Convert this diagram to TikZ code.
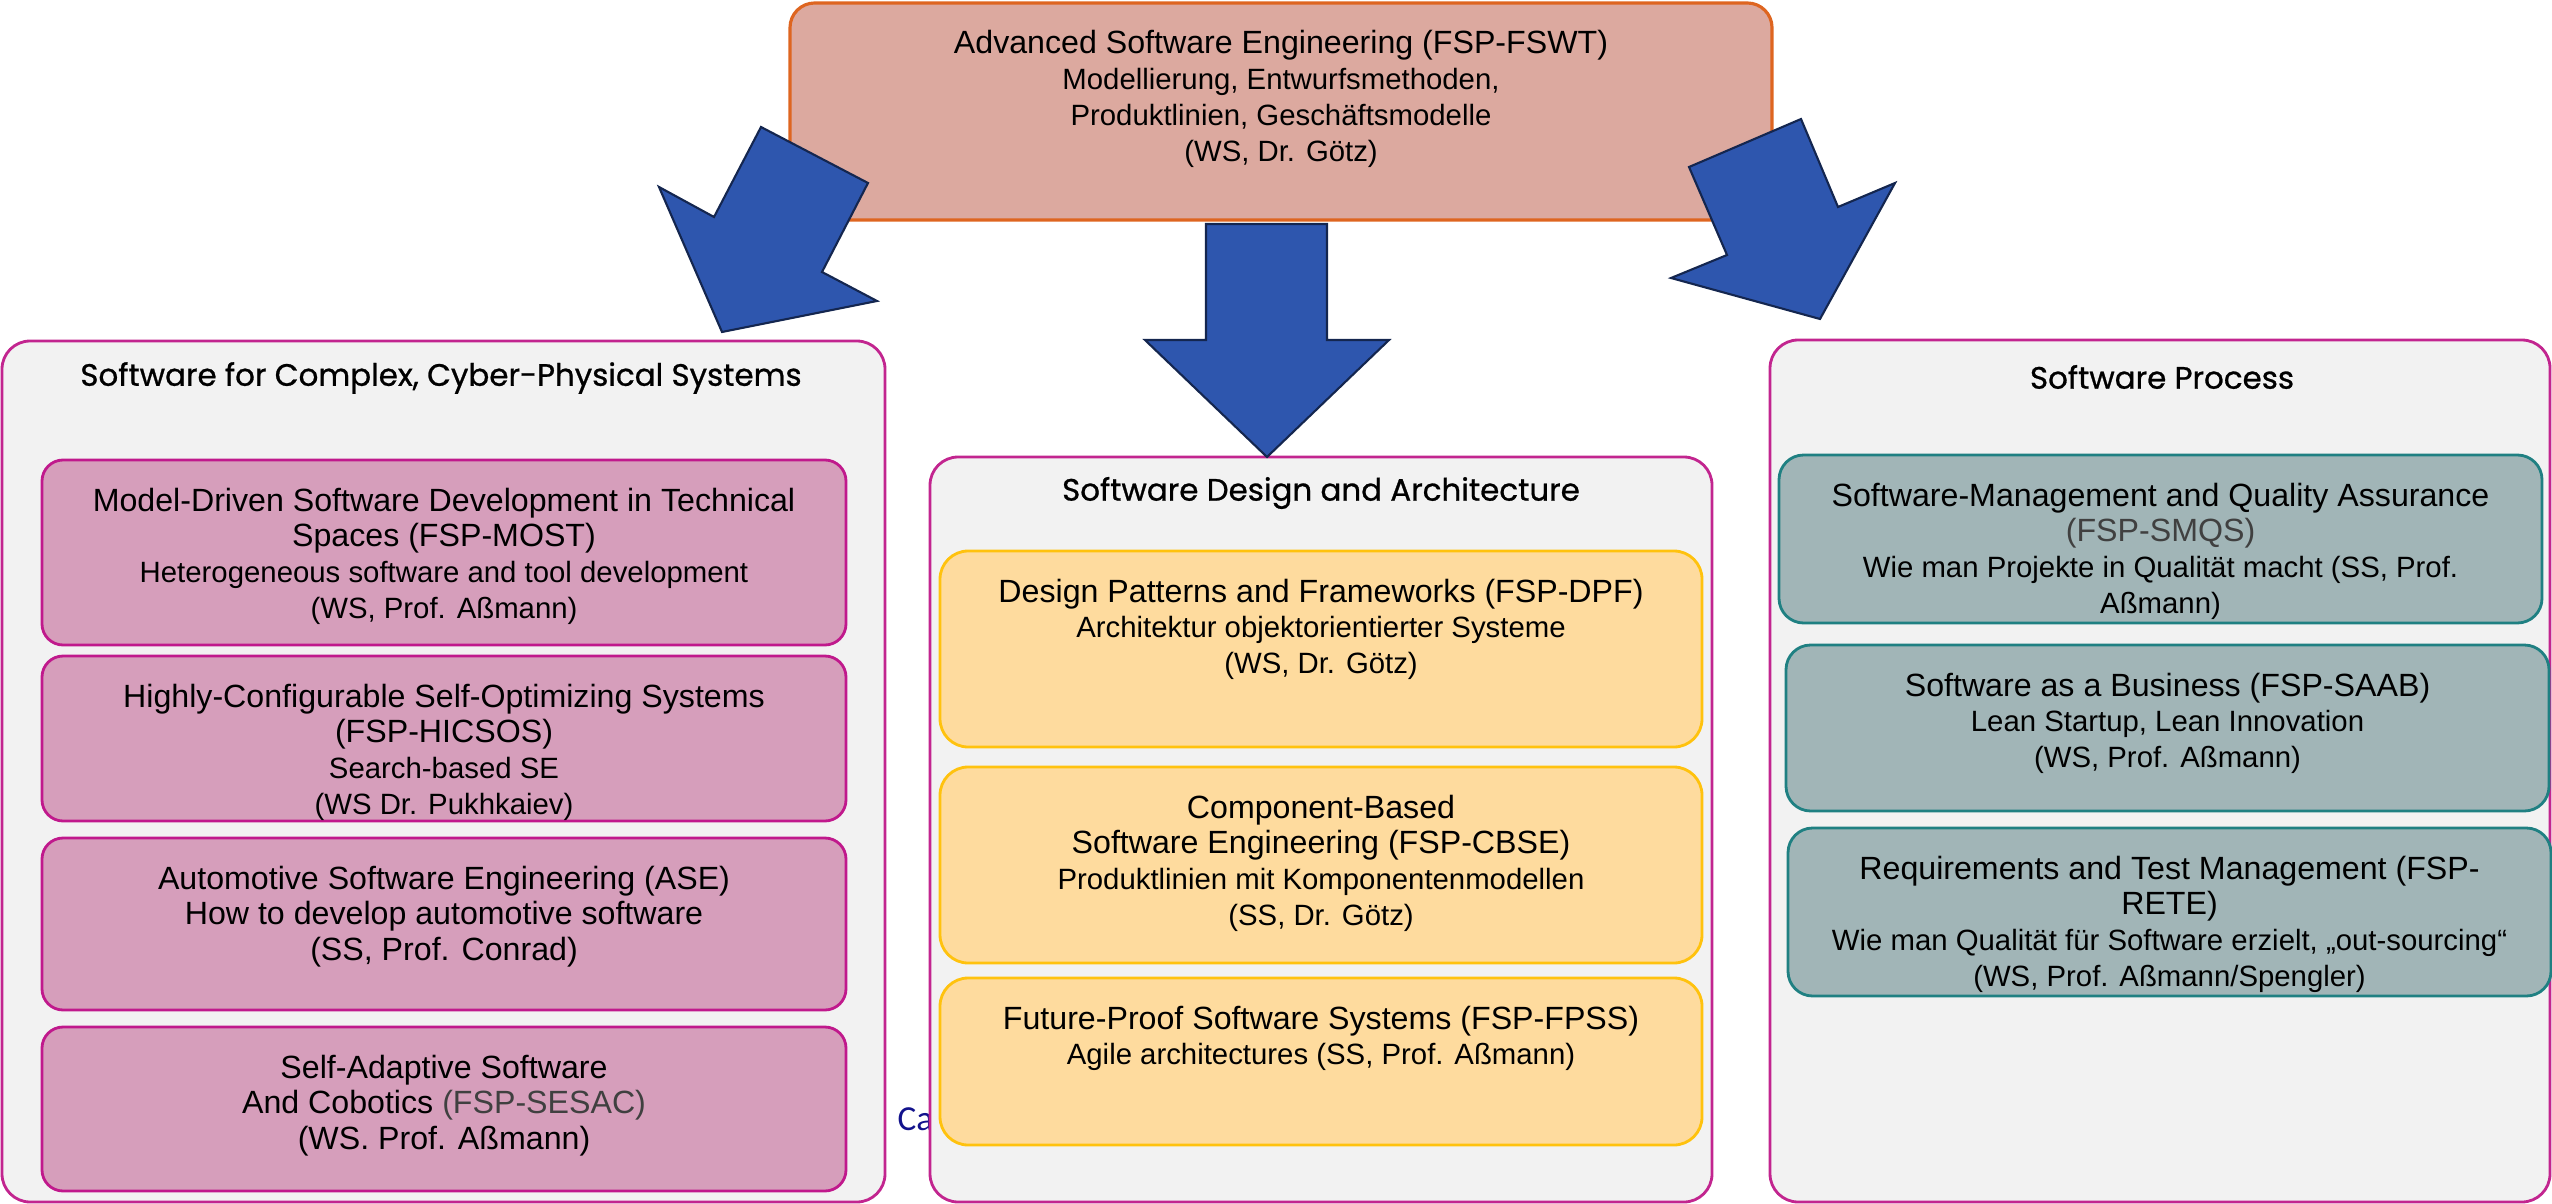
\documentclass[tikz,border=0pt]{standalone}
\usepackage{fontspec}
\setmainfont{Liberation Sans}
\newfontfamily\hdfont{Poppins}[FakeBold=0.8]
\newfontfamily\calfont{Carlito}
\usetikzlibrary{positioning}
\definecolor{grpline}{HTML}{C2258F}
\definecolor{grpfill}{HTML}{F2F2F2}
\definecolor{topfill}{HTML}{DCA99F}
\definecolor{topline}{HTML}{DE6520}
\definecolor{pinkfill}{HTML}{D69EBB}
\definecolor{pinkline}{HTML}{C0198C}
\definecolor{ylwfill}{HTML}{FEDB9E}
\definecolor{ylwline}{HTML}{FFC20E}
\definecolor{tealfill}{HTML}{A1B5B7}
\definecolor{tealline}{HTML}{1F8082}
\definecolor{arrfill}{HTML}{2E56AE}
\definecolor{arrline}{HTML}{14264F}
\definecolor{calblue}{HTML}{12128C}
\definecolor{fspgray}{HTML}{404040}
\newcommand{\fsp}[1]{\textcolor{fspgray}{#1}}
\newcommand{\subl}[1]{{\fontsize{8.35}{10.2}\selectfont #1}}

\begin{document}
\begin{tikzpicture}[
  font=\fontsize{9.15}{10.2}\selectfont,
  grp/.style={rounded corners=8pt, draw=grpline, line width=0.8pt, fill=grpfill, inner sep=0pt},
  topbox/.style={rounded corners=7pt, draw=topline, line width=0.9pt, fill=topfill, inner sep=0pt},
  pinkbox/.style={rounded corners=6pt, draw=pinkline, line width=0.8pt, fill=pinkfill,
                  inner sep=0pt, minimum width=8.04cm},
  ylwbox/.style={rounded corners=8pt, draw=ylwline, line width=0.8pt, fill=ylwfill,
                 inner sep=0pt, minimum width=7.62cm},
  tealbox/.style={rounded corners=7pt, draw=tealline, line width=0.8pt, fill=tealfill,
                  inner sep=0pt, minimum width=7.63cm},
  txt/.style={anchor=north, align=center, inner sep=0pt, yshift=-2.85mm},
  ttl/.style={font=\hdfont\fontsize{8.8}{11}\selectfont, inner sep=0pt},
  blockarr/.style={fill=arrfill, draw=arrline, line width=0.6pt, line join=miter},
]
\useasboundingbox (0,0) rectangle (25.52,-12.04);

% ---- groups ----
\node[grp, minimum width=8.83cm, minimum height=8.61cm] (cps) at (4.435,-7.715) {};
\node[calblue, font=\calfont\fontsize{10}{12}\selectfont, anchor=west, inner sep=0pt] (ca) at (8.97,-11.195) {Ca};
\node[grp, minimum width=7.82cm, minimum height=7.45cm] (sda) at (13.21,-8.295) {};
\node[grp, minimum width=7.80cm, minimum height=8.62cm] (proc) at (21.60,-7.71) {};

\node[ttl] (cps-t)  at (4.41,-3.78)  {Software for Complex, Cyber-Physical Systems};
\node[ttl] (sda-t)  at (13.21,-4.93) {Software Design and Architecture};
\node[ttl] (proc-t) at (21.62,-3.77) {Software Process};

% ---- top ----
\node[topbox, minimum width=9.82cm, minimum height=2.17cm] (fswt) at (12.81,-1.115) {};
\node[txt] (fswt-t) at (fswt.north) {Advanced Software Engineering (FSP-FSWT)\\\subl{Modellierung, Entwurfsmethoden,}\\\subl{Produktlinien, Geschäftsmodelle}\\\subl{(WS, Dr. Götz)}};

% ---- left column ----
\node[pinkbox, minimum height=1.85cm] (most)   at (4.44,-5.525) {};
\node[pinkbox, minimum height=1.65cm] (hicsos) at (4.44,-7.385) {};
\node[pinkbox, minimum height=1.72cm] (ase)    at (4.44,-9.24)  {};
\node[pinkbox, minimum height=1.64cm] (sesac)  at (4.44,-11.09) {};
\node[txt] (most-t)   at (most.north)   {Model-Driven Software Development in Technical\\Spaces (FSP-MOST)\\\subl{Heterogeneous software and tool development}\\\subl{(WS, Prof. Aßmann)}};
\node[txt] (hicsos-t) at (hicsos.north) {Highly-Configurable Self-Optimizing Systems\\(FSP-HICSOS)\\\subl{Search-based SE}\\\subl{(WS Dr. Pukhkaiev)}};
\node[txt] (ase-t)    at (ase.north)    {Automotive Software Engineering (ASE)\\How to develop automotive software\\(SS, Prof. Conrad)};
\node[txt] (sesac-t)  at (sesac.north)  {Self-Adaptive Software\\And Cobotics \fsp{(FSP-SESAC)}\\(WS. Prof. Aßmann)};

% ---- middle column ----
\node[ylwbox, minimum height=1.96cm] (dpf)  at (13.21,-6.49)  {};
\node[ylwbox, minimum height=1.96cm] (cbse) at (13.21,-8.65)  {};
\node[ylwbox, minimum height=1.67cm] (fpss) at (13.21,-10.615) {};
\node[txt] (dpf-t)  at (dpf.north)  {Design Patterns and Frameworks (FSP-DPF)\\\subl{Architektur objektorientierter Systeme}\\\subl{(WS, Dr. Götz)}};
\node[txt] (cbse-t) at (cbse.north) {Component-Based\\Software Engineering (FSP-CBSE)\\\subl{Produktlinien mit Komponentenmodellen}\\\subl{(SS, Dr. Götz)}};
\node[txt] (fpss-t) at (fpss.north) {Future-Proof Software Systems (FSP-FPSS)\\\subl{Agile architectures (SS, Prof. Aßmann)}};

% ---- right column ----
\node[tealbox, minimum height=1.68cm] (smqs) at (21.605,-5.39) {};
\node[tealbox, minimum height=1.66cm] (saab) at (21.675,-7.28) {};
\node[tealbox, minimum height=1.68cm] (rete) at (21.695,-9.12) {};
\node[txt] (smqs-t) at (smqs.north) {Software-Management and Quality Assurance\\\fsp{(FSP-SMQS)}\\\subl{Wie man Projekte in Qualität macht (SS, Prof.}\\\subl{Aßmann)}};
\node[txt] (saab-t) at (saab.north) {Software as a Business (FSP-SAAB)\\\subl{Lean Startup, Lean Innovation}\\\subl{(WS, Prof. Aßmann)}};
\node[txt] (rete-t) at (rete.north) {Requirements and Test Management (FSP-\\RETE)\\\subl{Wie man Qualität für Software erzielt, „out-sourcing“}\\\subl{(WS, Prof. Aßmann/Spengler)}};

% ---- block arrows ----
\draw[blockarr] (7.61,-1.27) -- (8.68,-1.83) -- (8.22,-2.72) -- (8.77,-3.01) -- (7.22,-3.32)
  -- (6.59,-1.87) -- (7.14,-2.17) -- cycle;
\draw[blockarr] (12.06,-2.24) -- (13.27,-2.24) -- (13.27,-3.40) -- (13.89,-3.40) -- (12.67,-4.57)
  -- (11.45,-3.40) -- (12.06,-3.40) -- cycle;
\draw[blockarr] (16.89,-1.67) -- (18.01,-1.19) -- (18.38,-2.07) -- (18.95,-1.83) -- (18.20,-3.19)
  -- (16.71,-2.78) -- (17.27,-2.55) -- cycle;

\end{tikzpicture}
\end{document}
